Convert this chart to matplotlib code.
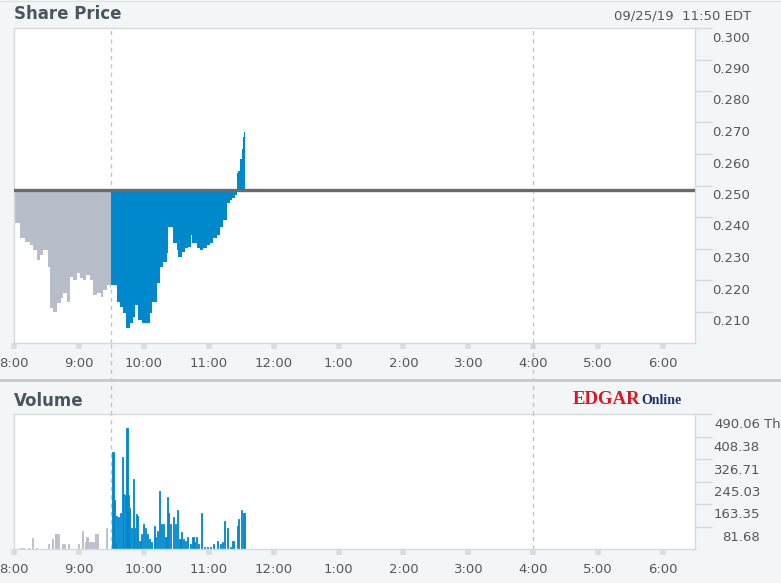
import numpy as np
import matplotlib
matplotlib.use("Agg")
import matplotlib.pyplot as plt
from matplotlib.lines import Line2D
from matplotlib.transforms import blended_transform_factory

# minutes after 8:00, pre-market (grey) and regular session (blue)
pre_min = [0, 6, 10, 15, 18, 21, 24, 27, 31, 33, 36, 40, 43, 45, 49, 52, 55, 58,
           61, 64, 67, 70, 73, 77, 80, 82, 86, 89]
pre_px = [0.2382, 0.2334, 0.2322, 0.2312, 0.2296, 0.2264, 0.2280, 0.2296, 0.2242,
          0.2111, 0.2099, 0.2127, 0.2143, 0.2159, 0.2130, 0.2210, 0.2201, 0.2223,
          0.2207, 0.2201, 0.2217, 0.2201, 0.2153, 0.2159, 0.2146, 0.2169, 0.2185,
          0.2178]
reg_min = [90, 95, 98, 101, 104, 107, 110, 112, 115, 118, 121, 124, 126, 128, 132,
           135, 138, 141, 142, 146, 147, 151, 152, 155, 158, 161, 164, 165, 169,
           172, 175, 178, 181, 184, 188, 190, 193, 197, 200, 202, 204, 206, 207,
           209, 211, 212, 213]
reg_px = [0.2185, 0.2130, 0.2115, 0.2095, 0.2048, 0.2064, 0.2083, 0.2121, 0.2073,
          0.2064, 0.2064, 0.2064, 0.2095, 0.2130, 0.2191, 0.2242, 0.2258, 0.2287,
          0.2369, 0.2369, 0.2318, 0.2296, 0.2274, 0.2290, 0.2302, 0.2306, 0.2344,
          0.2318, 0.2302, 0.2296, 0.2302, 0.2312, 0.2318, 0.2334, 0.2344, 0.2369,
          0.2392, 0.2446, 0.2455, 0.2459, 0.2471, 0.2541, 0.2545, 0.2583, 0.2615,
          0.2653, 0.2669]
prev_close = 0.2487

# volume in thousands
pre_vol_min = [6, 8, 13, 17, 20, 31, 35, 38, 39, 41, 44, 46, 50, 59, 63, 66, 67, 69,
               71, 73, 75, 77, 85]
pre_vol = [4, 4, 5, 40, 5, 18, 35, 55, 55, 55, 18, 18, 18, 18, 64, 25, 45, 25, 25,
           25, 55, 55, 77]
reg_vol_min = [91, 92, 93, 94, 96, 98, 100, 101, 103, 104, 105, 106, 108, 110, 111,
               113, 114, 116, 117, 119, 121, 123, 125, 127, 129, 130, 132, 134, 136,
               138, 140, 141, 142, 144, 147, 149, 151, 153, 154, 156, 158, 160, 163,
               165, 166, 168, 170, 173, 176, 178, 181, 184, 188, 190, 192, 194, 197,
               200, 202, 206, 207, 210, 212, 213]
reg_vol = [353, 179, 20, 120, 117, 130, 335, 200, 195, 440, 197, 150, 77, 255, 77,
           127, 120, 30, 55, 90, 77, 55, 35, 25, 85, 42, 65, 212, 90, 90, 42, 190,
           130, 90, 115, 90, 140, 35, 60, 35, 30, 42, 18, 42, 25, 45, 18, 130, 6, 6,
           8, 18, 30, 18, 25, 100, 77, 6, 30, 85, 110, 140, 130, 130]
vol_top = 490.06

hour_ticks = [8, 9, 10, 11, 12, 13, 14, 15, 16, 17, 18]
hour_labels = ['8:00', '9:00', '10:00', '11:00', '12:00', '1:00', '2:00', '3:00',
               '4:00', '5:00', '6:00']
price_ticks = [0.21, 0.22, 0.23, 0.24, 0.25, 0.26, 0.27, 0.28, 0.29, 0.30]

BG = '#f3f6f7'
EDGE = '#d5dadd'
GREY = '#b8bdca'
BLUE = '#0088cc'
TXT = '#50585e'
W, H = 781, 583


def fx(px):
    return px / W


def fy(py):
    return 1 - py / H


fig = plt.figure(figsize=(W / 100, H / 100), dpi=100, facecolor=BG)
ax = fig.add_axes([fx(14), fy(343), fx(681), 315 / H])
ax2 = fig.add_axes([fx(14), fy(549), fx(681), 135 / H])

to_h = lambda m: 8 + np.asarray(m, float) / 60.0

# price panel
tg = to_h(pre_min + [90])
pg = pre_px + [pre_px[-1]]
ax.fill_between(tg, prev_close, pg, step='post', color=GREY, lw=0, zorder=2)
tb = to_h(reg_min + [214])
pb = reg_px + [reg_px[-1]]
ax.fill_between(tb, prev_close, pb, step='post', color=BLUE, lw=0, zorder=2)
ax.axhline(prev_close, color='#6a6a6a', lw=2.4, zorder=3)
ax.set_ylim(0.200, 0.300)

# volume panel
ax2.bar(to_h(pre_vol_min), pre_vol, width=1 / 60, align='edge', color=GREY,
        edgecolor=GREY, lw=0.6, zorder=2)
ax2.bar(to_h(reg_vol_min), reg_vol, width=1 / 60, align='edge', color=BLUE,
        edgecolor=BLUE, lw=0.6, zorder=2)
ax2.set_ylim(0, vol_top)
vol_ticks = [vol_top * k / 6 for k in range(1, 7)]

for a in (ax, ax2):
    a.set_facecolor('white')
    a.set_xlim(8, 8 + 681 / 64.9)
    a.set_xticks(hour_ticks)
    a.set_xticklabels(hour_labels)
    a.tick_params(axis='x', length=4, width=4, color='#d9dde0', pad=6,
                  labelsize=9.5, labelcolor=TXT)
    a.yaxis.tick_right()
    for s in a.spines.values():
        s.set_color(EDGE)
        s.set_linewidth(1)
    for xv in (9.5, 16.0):
        a.axvline(xv, color='#c4c4c4', lw=1, ls=(0, (3, 3)), zorder=1)

ax.set_yticks(price_ticks)
ax.set_yticklabels([])
ax.tick_params(axis='y', length=12, width=1, color=EDGE)
for v in price_ticks:
    ax.annotate('%.3f' % v, xy=(1, v), xycoords=('axes fraction', 'data'),
                xytext=(17, -10), textcoords='offset pixels', ha='left', va='center',
                fontsize=9.5, color=TXT, annotation_clip=False)

ax2.set_yticks(vol_ticks)
ax2.set_yticklabels([])
ax2.tick_params(axis='y', length=12, width=1, color=EDGE)
for v in vol_ticks:
    ax2.annotate('%.2f' % v, xy=(1, v), xycoords=('axes fraction', 'data'),
                 xytext=(65, -11), textcoords='offset pixels', ha='right', va='center',
                 fontsize=9.5, color=TXT, annotation_clip=False)
ax2.annotate('Th', xy=(1, vol_top), xycoords=('axes fraction', 'data'),
             xytext=(69, -11), textcoords='offset pixels', ha='left', va='center',
             fontsize=9.5, color=TXT, annotation_clip=False)

# dashed session markers through the gap between panels
tr = blended_transform_factory(ax.transData, fig.transFigure)
for xv in (9.5, 16.0):
    fig.add_artist(Line2D([xv, xv], [fy(344), fy(414)], transform=tr,
                          color='#c4c4c4', lw=1, ls=(0, (3, 3))))

# separator and frame
fig.add_artist(Line2D([0, 1], [fy(379.5), fy(379.5)], color='#c5cacd', lw=2))
fig.add_artist(Line2D([0, 1], [fy(1), fy(1)], color='#dde2e4', lw=1))

fig.text(fx(14), fy(14), 'Share Price', fontsize=12, fontweight='bold',
         color='#4b5560', ha='left', va='center')
fig.text(fx(14), fy(401), 'Volume', fontsize=12, fontweight='bold',
         color='#4b5560', ha='left', va='center')
fig.text(fx(751), fy(16), '09/25/19  11:50 EDT', fontsize=9.5, color=TXT,
         ha='right', va='center')

fig.text(fx(573), fy(404), 'EDGAR', fontsize=13.5, fontweight='bold',
         family='Liberation Serif', color='#e0141e', ha='left', va='baseline')
fig.text(fx(641), fy(404), 'Online', fontsize=10, fontweight='bold',
         family='Liberation Serif', color='#1c2f6e', ha='left', va='baseline')

fig.savefig('out.png', dpi=100, facecolor=BG)
